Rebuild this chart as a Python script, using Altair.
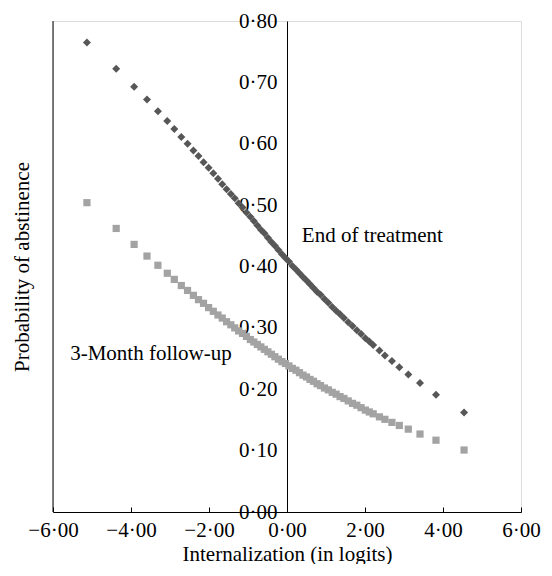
import altair as alt
import pandas as pd

# Person measures (logits) shared by both curves
x_vals = [-5.13, -4.38, -3.92, -3.59, -3.31, -3.07, -2.89, -2.71, -2.55, -2.40,
          -2.27, -2.14, -2.01, -1.89, -1.77, -1.66, -1.55, -1.44, -1.34, -1.24,
          -1.14, -1.04, -0.94, -0.85, -0.76, -0.67, -0.58, -0.49, -0.40, -0.31,
          -0.22, -0.13, -0.04, 0.05, 0.14, 0.23, 0.32, 0.41, 0.50, 0.59,
          0.68, 0.77, 0.86, 0.96, 1.06, 1.16, 1.26, 1.36, 1.46, 1.57,
          1.68, 1.79, 1.90, 2.01, 2.11, 2.21, 2.37, 2.51, 2.69, 2.88,
          3.11, 3.41, 3.82, 4.54]

end_treatment = [0.765, 0.722, 0.693, 0.672, 0.653, 0.637, 0.624, 0.611, 0.600, 0.589,
                 0.580, 0.570, 0.561, 0.552, 0.543, 0.534, 0.526, 0.518, 0.511, 0.503,
                 0.496, 0.488, 0.481, 0.474, 0.467, 0.460, 0.454, 0.447, 0.440, 0.434,
                 0.427, 0.420, 0.414, 0.408, 0.401, 0.395, 0.389, 0.383, 0.377, 0.371,
                 0.365, 0.359, 0.354, 0.347, 0.341, 0.334, 0.328, 0.322, 0.316, 0.309,
                 0.303, 0.296, 0.290, 0.283, 0.278, 0.272, 0.263, 0.255, 0.246, 0.236,
                 0.224, 0.210, 0.191, 0.162]

follow_up = [0.504, 0.462, 0.436, 0.417, 0.402, 0.389, 0.379, 0.369, 0.361, 0.353,
             0.346, 0.340, 0.333, 0.327, 0.321, 0.316, 0.310, 0.305, 0.300, 0.295,
             0.291, 0.286, 0.281, 0.277, 0.273, 0.269, 0.265, 0.261, 0.257, 0.253,
             0.249, 0.245, 0.242, 0.238, 0.234, 0.231, 0.227, 0.223, 0.220, 0.216,
             0.213, 0.209, 0.206, 0.202, 0.199, 0.195, 0.192, 0.188, 0.185, 0.181,
             0.177, 0.174, 0.170, 0.166, 0.163, 0.160, 0.155, 0.151, 0.146, 0.141,
             0.135, 0.127, 0.117, 0.101]

series_names = ["End of treatment", "3-Month follow-up"]
x_ticks = [-6, -4, -2, 0, 2, 4, 6]
y_ticks = [0.0, 0.1, 0.2, 0.3, 0.4, 0.5, 0.6, 0.7, 0.8]

label_text = ["End of treatment", "3-Month follow-up"]
label_x = [0.38, -5.56]
label_y = [0.44, 0.248]

frame_x = [-6]
frame_y0 = [0.0]
frame_y1 = [0.8]

rows = []
for xv, a, b in zip(x_vals, end_treatment, follow_up):
    rows.append({"x": xv, "p": a, "series": series_names[0]})
    rows.append({"x": xv, "p": b, "series": series_names[1]})
pts = pd.DataFrame(rows)
labels = pd.DataFrame({"x": label_x, "y": label_y, "text": label_text})
frame = pd.DataFrame({"x": frame_x, "y0": frame_y0, "y1": frame_y1})

FONT = "Liberation Serif"
FS = 21
W, H = 468, 491
xs = alt.Scale(domain=[-6, 6], nice=False, zero=False)
ys = alt.Scale(domain=[0, 0.8], nice=False, zero=False)
fmt = "replace(format(datum.value, '.2f'), '.', '\u00b7')"

points = alt.Chart(pts).mark_point(filled=True, opacity=1).encode(
    x=alt.X("x:Q", scale=xs, axis=alt.Axis(
        orient="bottom", values=x_ticks, ticks=False, grid=False,
        domainColor="black", domainWidth=1, labelExpr=fmt, labelFlush=False,
        labelOverlap=False,
        labelFont=FONT, labelFontSize=FS, labelColor="black", labelPadding=7,
        title="Internalization (in logits)", titleFont=FONT, titleFontSize=FS,
        titleFontWeight="normal", titleColor="black",
        titleBaseline="alphabetic", titleY=48)),
    y=alt.Y("p:Q", scale=ys, axis=alt.Axis(
        orient="left", offset=-234, values=y_ticks, ticks=False, grid=False,
        domainColor="black", domainWidth=1, labelExpr=fmt, labelFlush=False,
        labelOverlap=False,
        labelFont=FONT, labelFontSize=FS, labelColor="black", labelPadding=10,
        title="Probability of abstinence", titleFont=FONT, titleFontSize=FS,
        titleFontWeight="normal", titleColor="black", titleAngle=270,
        titleBaseline="alphabetic", titleAlign="center", titleX=-259, titleY=H / 2)),
    color=alt.Color("series:N", scale=alt.Scale(domain=series_names,
                                                range=["#575757", "#a3a3a3"]), legend=None),
    shape=alt.Shape("series:N", scale=alt.Scale(domain=series_names,
                                                range=["diamond", "square"]), legend=None),
    size=alt.Size("series:N", scale=alt.Scale(domain=series_names,
                                              range=[64, 52]), legend=None),
)

frame_rule = alt.Chart(frame).mark_rule(color="black", strokeWidth=1).encode(
    x=alt.X("x:Q", scale=xs, axis=alt.Axis(
        orient="top", offset=-H, values=x_ticks, labels=False, domain=False,
        ticks=True, tickSize=5, tickColor="black", tickWidth=1, grid=False, title=None)),
    y=alt.Y("y0:Q", scale=ys, axis=None),
    y2="y1:Q",
)

texts = alt.Chart(labels).mark_text(
    align="left", baseline="alphabetic", font=FONT, fontSize=FS, color="black"
).encode(
    x=alt.X("x:Q", scale=xs, axis=None),
    y=alt.Y("y:Q", scale=ys, axis=None),
    text="text:N",
)

chart = alt.layer(points, frame_rule, texts).resolve_axis(
    x="independent", y="independent"
).properties(
    width=W, height=H,
    autosize=alt.AutoSizeParams(type="none"),
    padding={"left": 45, "top": 13, "right": 23, "bottom": 52},
).configure_view(stroke=None).configure(background="white")

chart.save("out.html", embed_options={"renderer": "svg", "actions": False})
